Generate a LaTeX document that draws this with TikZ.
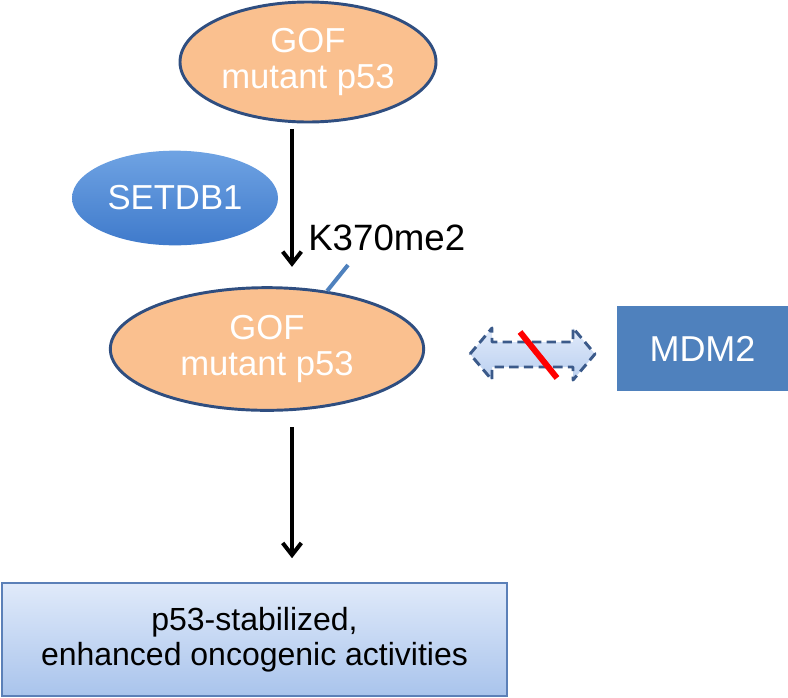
\documentclass[tikz,border=0pt]{standalone}
\usepackage{fontspec}
\setmainfont{Liberation Sans}
\usetikzlibrary{arrows.meta, positioning, shapes.geometric, calc}
\definecolor{cpeach}{HTML}{FAC08F}
\definecolor{cnavy}{HTML}{2F4E80}
\definecolor{cblue}{HTML}{4F81BD}
\definecolor{clight}{HTML}{6FA3E3}
\definecolor{cdeep}{HTML}{3F7ACB}
\definecolor{cpale}{HTML}{E0EAFA}
\definecolor{csky}{HTML}{A9C4EC}
\definecolor{cedge}{HTML}{5B80B8}
\definecolor{cdash}{HTML}{3B5A8A}
\definecolor{cred}{HTML}{FF0000}
\tikzset{
  every picture/.style={x=0.75pt, y=-0.75pt},
  prot/.style={ellipse, draw=cnavy, fill=cpeach, line width=2.2pt, text=white, align=center, inner sep=0pt, font=\fontsize{26}{27}\selectfont},
  enzyme/.style={ellipse, top color=clight, bottom color=cdeep, text=white, inner sep=0pt, font=\fontsize{26}{27}\selectfont},
  arrow/.style={-{Straight Barb[length=9pt, width=14pt]}, line width=3pt, draw=black},
  methyl/.style={line width=3pt, draw=cblue},
  bind/.style={dashed, dash pattern=on 7pt off 4pt, draw=cdash, line width=2.2pt, top color=cpale, bottom color=csky!80, line join=round},
  cross/.style={line width=4.5pt, draw=cred},
  outcome/.style={draw=cedge, line width=1.2pt, top color=cpale, bottom color=csky, align=center, inner sep=0pt, font=\fontsize{24}{26.5}\selectfont},
}

\begin{document}
\begin{tikzpicture}
  \useasboundingbox (0,0) rectangle (788,697);
  % mutant p53 before and after methylation
  \node[prot, minimum width=192pt, minimum height=90pt] (top) at (308,62) {GOF\\mutant p53};
  \node[enzyme, minimum width=154.5pt, minimum height=71pt] (setdb) at (175,198) {SETDB1};
  \node[prot, minimum width=235pt, minimum height=92pt] (mid) at (267,349) {GOF\\mutant p53};
  \node[anchor=west, inner sep=0pt, font=\fontsize{27.5}{28}\selectfont] (site) at (308,238) {K370me2};
  \coordinate (tickend) at (348,265);
  \draw[methyl] (mid.44) -- (tickend);
  \coordinate (axis) at (292,0);
  \draw[arrow, shorten <=4pt, shorten >=14.5pt] (top.south -| axis) -- (mid.north -| axis);
  % no binding to MDM2
  \node[fill=cblue, text=white, minimum width=128.25pt, minimum height=63.75pt, inner sep=0pt, font=\fontsize{27}{28}\selectfont] (mdm) at (702.5,348.5) {MDM2};
  \draw[bind] (470,354) -- (492,328) -- (492,342) -- (573,342) -- (573,328) -- (595,354)
    -- (573,380) -- (573,367) -- (492,367) -- (492,380) -- cycle;
  \draw[cross] (520,332) -- (557,378);
  % outcome
  \node[outcome, minimum width=378.75pt, minimum height=84.75pt] (result) at (254.5,639.5) {p53-stabilized,\\enhanced oncogenic activities};
  \draw[arrow, shorten <=11.5pt, shorten >=18pt] (mid.south -| axis) -- (result.north -| axis);
\end{tikzpicture}
\end{document}
